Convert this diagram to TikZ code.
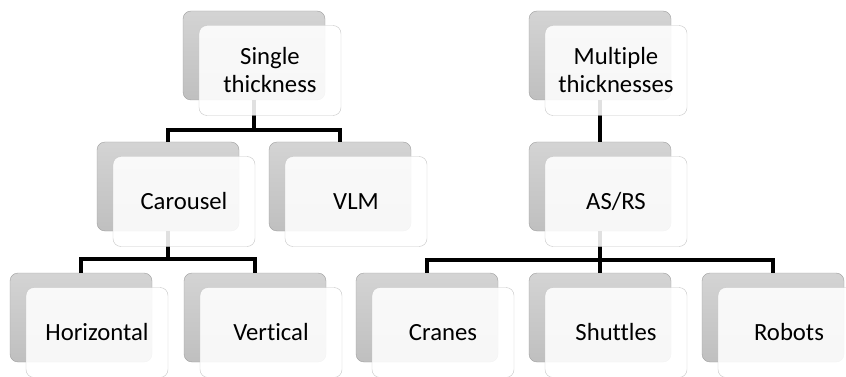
\documentclass[tikz,border=0pt]{standalone}
\usepackage{fontspec}
\setmainfont{Carlito}[Ligatures=NoCommon]
\usetikzlibrary{positioning}

\begin{document}
\begin{tikzpicture}[%
        x=1pt, y=-1pt,
        conn/.style={%
          draw=black,
          line width=3.5pt
        },
        backbox/.style={%
          rectangle,
          rounded corners=8pt,
          minimum width=142pt,
          minimum height=89pt,
          inner sep=0pt,
          draw=gray!75,
          top color=black!17, bottom color=black!25
        },
        frontbox/.style={%
          rectangle,
          rounded corners=8pt,
          minimum width=142pt,
          minimum height=90pt,
          inner sep=0pt,
          align=center,
          draw=black!22,
          fill=white, fill opacity=0.88, text opacity=1,
          font=\fontsize{24.7}{28}\selectfont
        }
      ]
      \useasboundingbox (0,0) rectangle (846,377);
      % back boxes
      \node[backbox] (singleb) at (254,55.5) {};
      \node[backbox] (multib) at (600,55.5) {};
      \node[backbox] (carouselb) at (168,186.5) {};
      \node[backbox] (vlmb) at (340,186.5) {};
      \node[backbox] (asrsb) at (600,186.5) {};
      \node[backbox] (horizb) at (81,317.5) {};
      \node[backbox] (vertb) at (255,317.5) {};
      \node[backbox] (cranesb) at (427,317.5) {};
      \node[backbox] (shuttlesb) at (600,317.5) {};
      \node[backbox] (robotsb) at (773,317.5) {};
      % connectors
      \draw[conn] (singleb.south) -- ++(0,30) -| (carouselb.north);
      \draw[conn] (singleb.south) -- ++(0,30) -| (vlmb.north);
      \draw[conn] (multib.south) -- (asrsb.north);
      \draw[conn] (carouselb.south) -- ++(0,28) -| (horizb.north);
      \draw[conn] (carouselb.south) -- ++(0,28) -| (vertb.north);
      \draw[conn] (asrsb.south) -- ++(0,29) -| (cranesb.north);
      \draw[conn] (asrsb.south) -- (shuttlesb.north);
      \draw[conn] (asrsb.south) -- ++(0,29) -| (robotsb.north);
      % front boxes
      \node[frontbox, xshift=16pt, yshift=-15pt] (single) at (singleb) {Single\\thickness};
      \node[frontbox, xshift=16pt, yshift=-15pt] (multi) at (multib) {Multiple\\thicknesses};
      \node[frontbox, xshift=16pt, yshift=-15pt] (carousel) at (carouselb) {Carousel};
      \node[frontbox, xshift=16pt, yshift=-15pt] (vlm) at (vlmb) {VLM};
      \node[frontbox, xshift=16pt, yshift=-15pt] (asrs) at (asrsb) {AS/RS};
      \node[frontbox, xshift=16pt, yshift=-15pt] (horiz) at (horizb) {Horizontal};
      \node[frontbox, xshift=16pt, yshift=-15pt] (vert) at (vertb) {Vertical};
      \node[frontbox, xshift=16pt, yshift=-15pt] (cranes) at (cranesb) {Cranes};
      \node[frontbox, xshift=16pt, yshift=-15pt] (shuttles) at (shuttlesb) {Shuttles};
      \node[frontbox, xshift=16pt, yshift=-15pt] (robots) at (robotsb) {Robots};
  \end{tikzpicture}
\end{document}
